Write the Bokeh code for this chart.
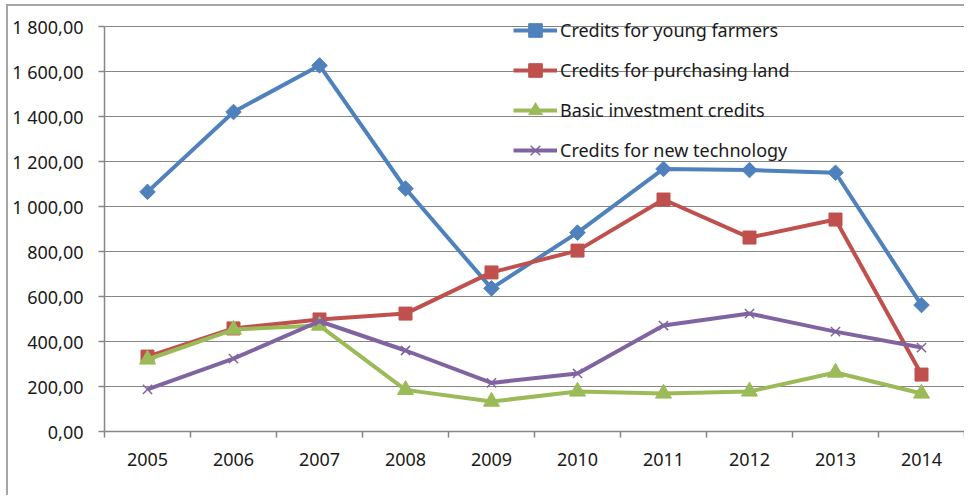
import numpy as np
from bokeh.plotting import figure
from bokeh.models import FixedTicker, Range1d, Legend
from bokeh.embed import file_html
from bokeh.resources import INLINE

years = [2005, 2006, 2007, 2008, 2009, 2010, 2011, 2012, 2013, 2014]
young_farmers = [1065, 1420, 1627, 1080, 636, 884, 1167, 1162, 1150, 562]
purchasing_land = [333, 458, 498, 524, 707, 804, 1031, 862, 942, 253]
basic_investment = [320, 453, 471, 185, 133, 178, 169, 178, 262, 169]
new_technology = [187, 324, 490, 360, 216, 258, 471, 524, 444, 373]

series_names = ["Credits for young farmers", "Credits for purchasing land",
                "Basic investment credits", "Credits for new technology"]
y_ticks = [0, 200, 400, 600, 800, 1000, 1200, 1400, 1600, 1800]
y_tick_labels = ["0,00", "200,00", "400,00", "600,00", "800,00", "1 000,00",
                 "1 200,00", "1 400,00", "1 600,00", "1 800,00"]

FONT = "Noto Sans"
GRID = "#868686"
TEXT = "#1a1a1a"

# frame is 415px tall, 1800 sits 10px below its top
y_end = 1800 * 415 / 405

p = figure(width=958, height=491, output_backend="svg", toolbar_location=None,
           x_range=Range1d(years[0] - 0.5, years[-1] + 0.5),
           y_range=Range1d(0, y_end),
           min_border_left=96, min_border_right=2, min_border_top=10,
           min_border_bottom=66)
p.styles = {"border-top": "2px solid #a6a6a6", "border-left": "2px solid #a6a6a6",
            "margin-left": "6px", "margin-top": "4px"}
p.outline_line_color = None
p.background_fill_color = "white"
p.border_fill_color = "white"

# axes
p.xaxis.ticker = FixedTicker(ticks=years, minor_ticks=[y - 0.5 for y in years] + [years[-1] + 0.5])
p.xaxis.major_label_overrides = {y: str(y) for y in years}
p.xaxis.major_tick_out = 0
p.xaxis.major_tick_in = 0
p.xaxis.minor_tick_out = 6
p.xaxis.minor_tick_in = 0
p.xaxis.minor_tick_line_color = GRID
p.xaxis.minor_tick_line_width = 1.5
p.yaxis.ticker = FixedTicker(ticks=y_ticks, minor_ticks=[])
p.yaxis.major_label_overrides = dict(zip(y_ticks, y_tick_labels))
p.yaxis.major_tick_out = 6
p.yaxis.major_tick_in = 0
p.yaxis.bounds = (0, 1800)
for ax in (p.xaxis, p.yaxis):
    ax.axis_line_color = GRID
    ax.axis_line_width = 1.5
    ax.major_tick_line_color = GRID
    ax.major_tick_line_width = 1.5
    ax.major_label_text_font = FONT
    ax.major_label_text_font_size = "18px"
    ax.major_label_text_color = TEXT
p.yaxis.major_label_standoff = 15
p.xaxis.major_label_standoff = 15

p.xgrid.grid_line_color = None
p.ygrid.grid_line_color = GRID
p.ygrid.grid_line_width = 1.2

colors = ["#4F81BD", "#C0504D", "#9BBB59", "#8064A2"]
data = [young_farmers, purchasing_land, basic_investment, new_technology]
items = []
for name, vals, c, mk in zip(series_names, data, colors,
                             ["diamond_sq", "square", "triangle", "x"]):
    r1 = p.line(years, vals, line_color=c, line_width=4)
    if mk == "diamond_sq":
        r2 = p.scatter(years, vals, marker="square", angle=np.pi / 4, size=11,
                       fill_color=c, line_color=c)
    elif mk == "square":
        r2 = p.scatter(years, vals, marker="square", size=13, fill_color=c, line_color=c)
    elif mk == "triangle":
        r2 = p.scatter(years, vals, marker="triangle", size=16, fill_color=c, line_color=c)
    else:
        r2 = p.scatter(years, vals, marker="x", size=13, line_color=c, line_width=1.5)
    items.append((name, [r1, r2]))

legend = Legend(items=items, location=(409, 264))
legend.background_fill_alpha = 0
legend.border_line_color = None
legend.padding = 0
legend.margin = 0
legend.spacing = 6
legend.glyph_width = 44
legend.glyph_height = 34
legend.label_height = 20
legend.label_standoff = 3
legend.label_text_font = FONT
legend.label_text_font_size = "18px"
legend.label_text_color = TEXT
p.add_layout(legend, "center")

open("out.html", "w").write(file_html(p, INLINE))
